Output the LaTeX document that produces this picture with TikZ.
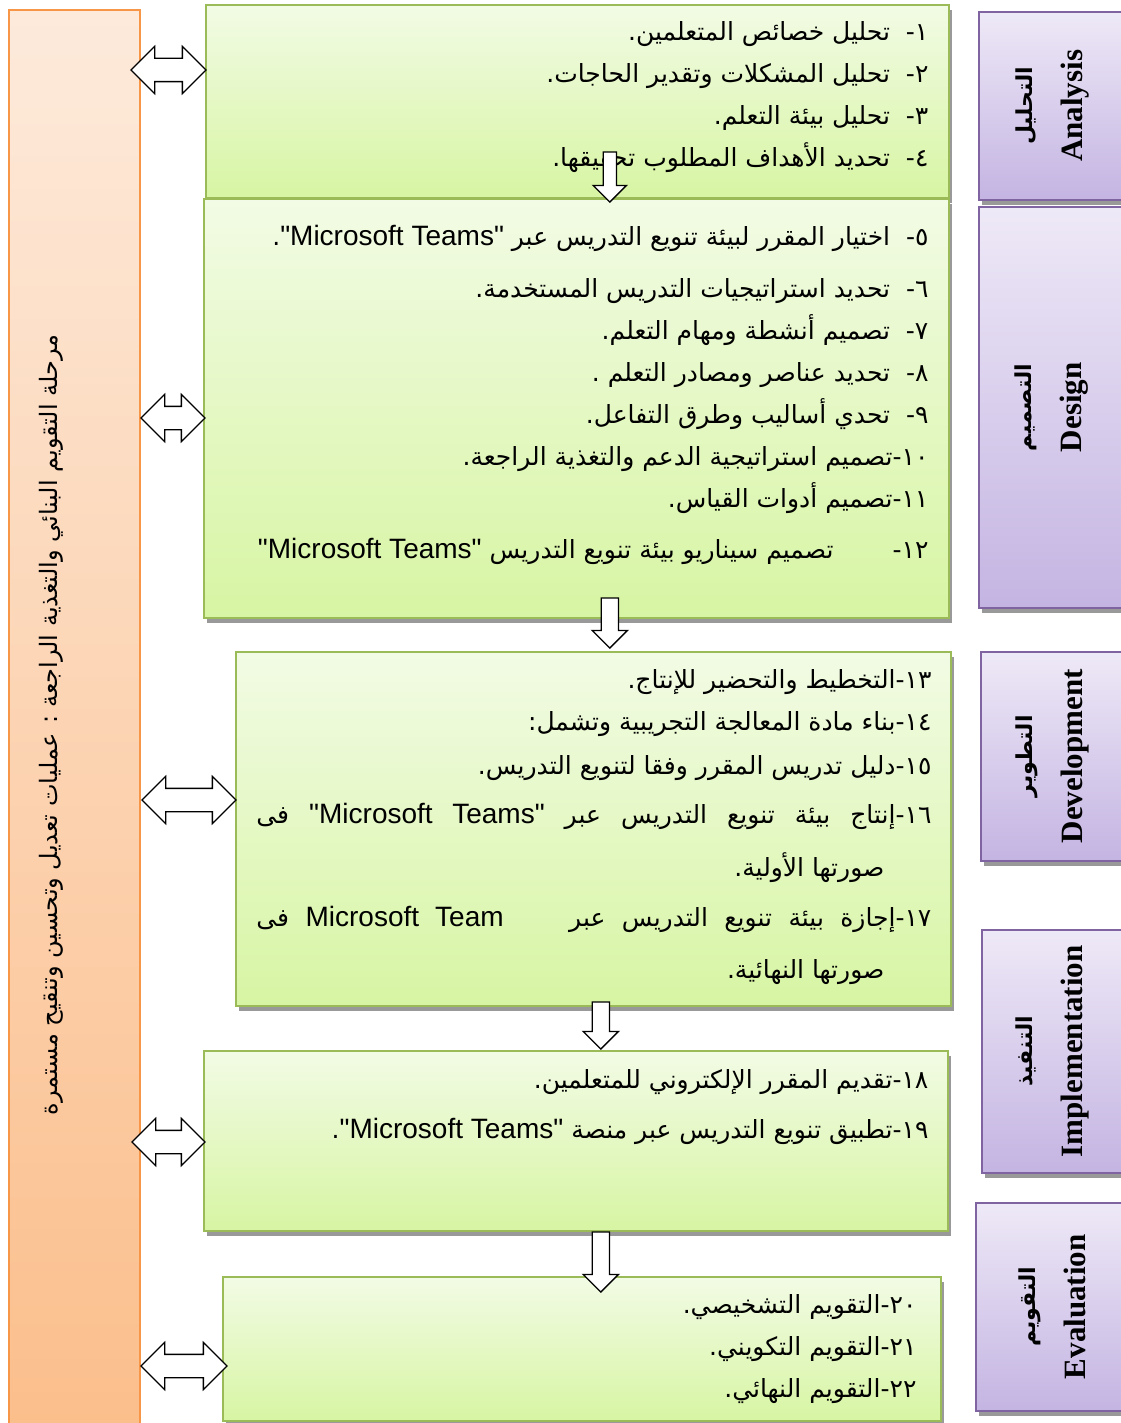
\documentclass[tikz,border=0pt]{standalone}
\usepackage{fontspec}
\setmainfont{Liberation Serif}
\newfontfamily\arabicfont[Script=Arabic]{DejaVu Sans}
\newfontfamily\latinfont{Liberation Sans}
\TeXXeTstate=1
\usetikzlibrary{positioning,shapes.arrows,shadows}

\definecolor{greenline}{HTML}{9BBB59}
\definecolor{greentop}{HTML}{F2FBE5}
\definecolor{greenbot}{HTML}{D7F5A3}
\definecolor{violetline}{HTML}{8064A2}
\definecolor{violettop}{HTML}{EEE9F7}
\definecolor{violetbot}{HTML}{C4B4E2}
\definecolor{orangeline}{HTML}{F79646}
\definecolor{orangetop}{HTML}{FDEADB}
\definecolor{orangebot}{HTML}{FBBE8B}

\newcommand\numdash[1]{#1\kern0pt-\kern0pt}
\newcommand\teams[1]{\beginL{\latinfont\fontsize{28}{42}\selectfont #1}\endL}

\tikzset{
  greenbox/.style={draw=greenline, line width=1.6pt, top color=greentop, bottom color=greenbot,
    drop shadow={shadow xshift=3pt, shadow yshift=-5pt, fill=black!40, opacity=1},
    anchor=north west, inner sep=0pt},
  phasebox/.style={draw=violetline, line width=1.6pt, top color=violettop, bottom color=violetbot,
    drop shadow={shadow xshift=3pt, shadow yshift=-5pt, fill=black!40, opacity=1},
    anchor=north west, inner sep=0pt, minimum width=160pt},
  barbox/.style={draw=orangeline, line width=1.6pt, top color=orangetop, bottom color=orangebot,
    anchor=north west, inner sep=0pt},
  itemtext/.style={align=right, inner sep=0pt, font=\arabicfont\fontsize{25}{42}\selectfont},
  phasename/.style={rotate=90, align=center, inner sep=0pt, font=\bfseries\fontsize{31}{50}\selectfont},
  twoway/.style={double arrow, draw, line width=1.3pt, fill=white, inner xsep=0pt, inner ysep=11pt,
    double arrow head extend=12pt},
  oneway/.style={single arrow, draw, line width=1.3pt, fill=white, inner sep=8pt,
    shape border rotate=270, single arrow head extend=9pt, anchor=tip}
}

\begin{document}
\begin{tikzpicture}[x=1pt,y=-1pt]
\useasboundingbox (0,0) rectangle (1120,1423);
% feedback bar
\node[barbox, minimum width=131pt, minimum height=1430pt] (fb) at (8,9) {};
\node[rotate=90, inner sep=0pt, font=\arabicfont\fontsize{24}{24}\selectfont] (fbt) at (51,725)
  {\beginR مرحلة التقويم البنائي والتغذية الراجعة : عمليات تعديل وتحسين وتنقيح مستمرة\endR};

% stage boxes
\node[greenbox, minimum width=743pt, minimum height=193pt] (b1) at (205,4) {};
\node[greenbox, minimum width=745pt, minimum height=419pt] (b2) at (203,198) {};
\node[greenbox, minimum width=715pt, minimum height=354pt] (b3) at (235,651) {};
\node[greenbox, minimum width=744pt, minimum height=180pt] (b4) at (203,1050) {};
\node[greenbox, minimum width=718pt, minimum height=144pt] (b5) at (222,1276) {};

% phase boxes
\node[phasebox, minimum height=188pt] (p1) at (978,11) {};
\node[phasebox, minimum height=401pt] (p2) at (978,206) {};
\node[phasebox, minimum height=209pt] (p3) at (980,651) {};
\node[phasebox, minimum height=243pt] (p4) at (981,929) {};
\node[phasebox, minimum height=208pt] (p5) at (975,1202) {};

\node[phasename] (n1) at ([xshift=74pt]p1.west) {{\arabicfont\fontsize{22}{22}\selectfont\beginR التحليل\endR}\\Analysis};
\node[phasename] (n2) at ([xshift=74pt]p2.west) {{\arabicfont\fontsize{22}{22}\selectfont\beginR التصميم\endR}\\Design};
\node[phasename] (n3) at ([xshift=72pt]p3.west) {{\arabicfont\fontsize{22}{22}\selectfont\beginR التطوير\endR}\\Development};
\node[phasename] (n4) at ([xshift=71pt]p4.west) {{\arabicfont\fontsize{22}{22}\selectfont\beginR التنفيذ\endR}\\Implementation};
\node[phasename] (n5) at ([xshift=77pt]p5.west) {{\arabicfont\fontsize{22}{22}\selectfont\beginR التقويم\endR}\\Evaluation};

% items
\node[itemtext, below left=17pt and 21pt of b1.north east] (t1) {%
  \beginR\numdash{١}\ \ تحليل خصائص المتعلمين.\endR\\
  \beginR\numdash{٢}\ \ تحليل المشكلات وتقدير الحاجات.\endR\\
  \beginR\numdash{٣}\ \ تحليل بيئة التعلم.\endR\\
  \beginR\numdash{٤}\ \ تحديد الأهداف المطلوب تحقيقها.\endR};
\node[itemtext, below left=27pt and 21pt of b2.north east] (t2) {%
  \beginR\numdash{٥}\ \ اختيار المقرر لبيئة تنويع التدريس عبر \teams{"Microsoft Teams"}.\endR\\[10pt]
  \beginR\numdash{٦}\ \ تحديد استراتيجيات التدريس المستخدمة.\endR\\
  \beginR\numdash{٧}\ \ تصميم أنشطة ومهام التعلم.\endR\\
  \beginR\numdash{٨}\ \ تحديد عناصر ومصادر التعلم .\endR\\
  \beginR\numdash{٩}\ \ تحدي أساليب وطرق التفاعل.\endR\\
  \beginR\numdash{١٠}تصميم استراتيجية الدعم والتغذية الراجعة.\endR\\
  \beginR\numdash{١١}تصميم أدوات القياس.\endR\\[9pt]
  \beginR\numdash{١٢}\hspace{59pt}تصميم سيناريو بيئة تنويع التدريس \teams{"Microsoft Teams"}\endR};
\node[itemtext, below left=18pt and 20pt of b3.north east] (t3) {%
  \beginR\numdash{١٣}التخطيط والتحضير للإنتاج.\endR\\
  \beginR\numdash{١٤}بناء مادة المعالجة التجريبية وتشمل:\endR\\[2pt]
  \beginR\numdash{١٥}دليل تدريس المقرر وفقا لتنويع التدريس.\endR\\[7pt]
  \hbox to 675pt{\beginR\numdash{١٦}إنتاج بيئة تنويع التدريس عبر \teams{"Microsoft Teams"} فى\endR}\\[11pt]
  \beginR صورتها الأولية.\endR\rule{47pt}{0pt}\\[8pt]
  \hbox to 675pt{\beginR\numdash{١٧}إجازة بيئة تنويع التدريس عبر\ \ \ \ \teams{Microsoft Team} فى\endR}\\[10pt]
  \beginR صورتها النهائية.\endR\rule{47pt}{0pt}};
\node[itemtext, below left=19pt and 20pt of b4.north east] (t4) {%
  \beginR\numdash{١٨}تقديم المقرر الإلكتروني للمتعلمين.\endR\\[8pt]
  \beginR\numdash{١٩}تطبيق تنويع التدريس عبر منصة \teams{"Microsoft Teams"}.\endR};
\node[itemtext, below left=18pt and 25pt of b5.north east] (t5) {%
  \beginR\numdash{٢٠}التقويم التشخيصي.\endR\\
  \beginR\numdash{٢١}التقويم التكويني.\endR\\
  \beginR\numdash{٢٢}التقويم النهائي.\endR};

% flow arrows
\node[oneway, inner sep=6pt, single arrow head extend=10pt, minimum height=50pt] (d1) at ([xshift=33.5pt,yshift=-5pt]b2.north) {};
\node[oneway, minimum height=50pt] (d2) at ([xshift=16.5pt,yshift=2pt]b3.north) {};
\node[oneway, minimum height=47pt] (d3) at ([xshift=25pt]b4.north) {};
\node[oneway, minimum height=60pt] (d4) at ([xshift=19pt,yshift=-17pt]b5.north) {};

% feedback arrows
\node[twoway, minimum height=75pt] (a1) at (168.5,70) {};
\node[twoway, minimum height=64pt] (a2) at (173,418) {};
\node[twoway, minimum height=94pt] (a3) at (189,800) {};
\node[twoway, minimum height=73pt] (a4) at (168.5,1142) {};
\node[twoway, minimum height=86pt] (a5) at (184,1366) {};
\end{tikzpicture}
\end{document}
